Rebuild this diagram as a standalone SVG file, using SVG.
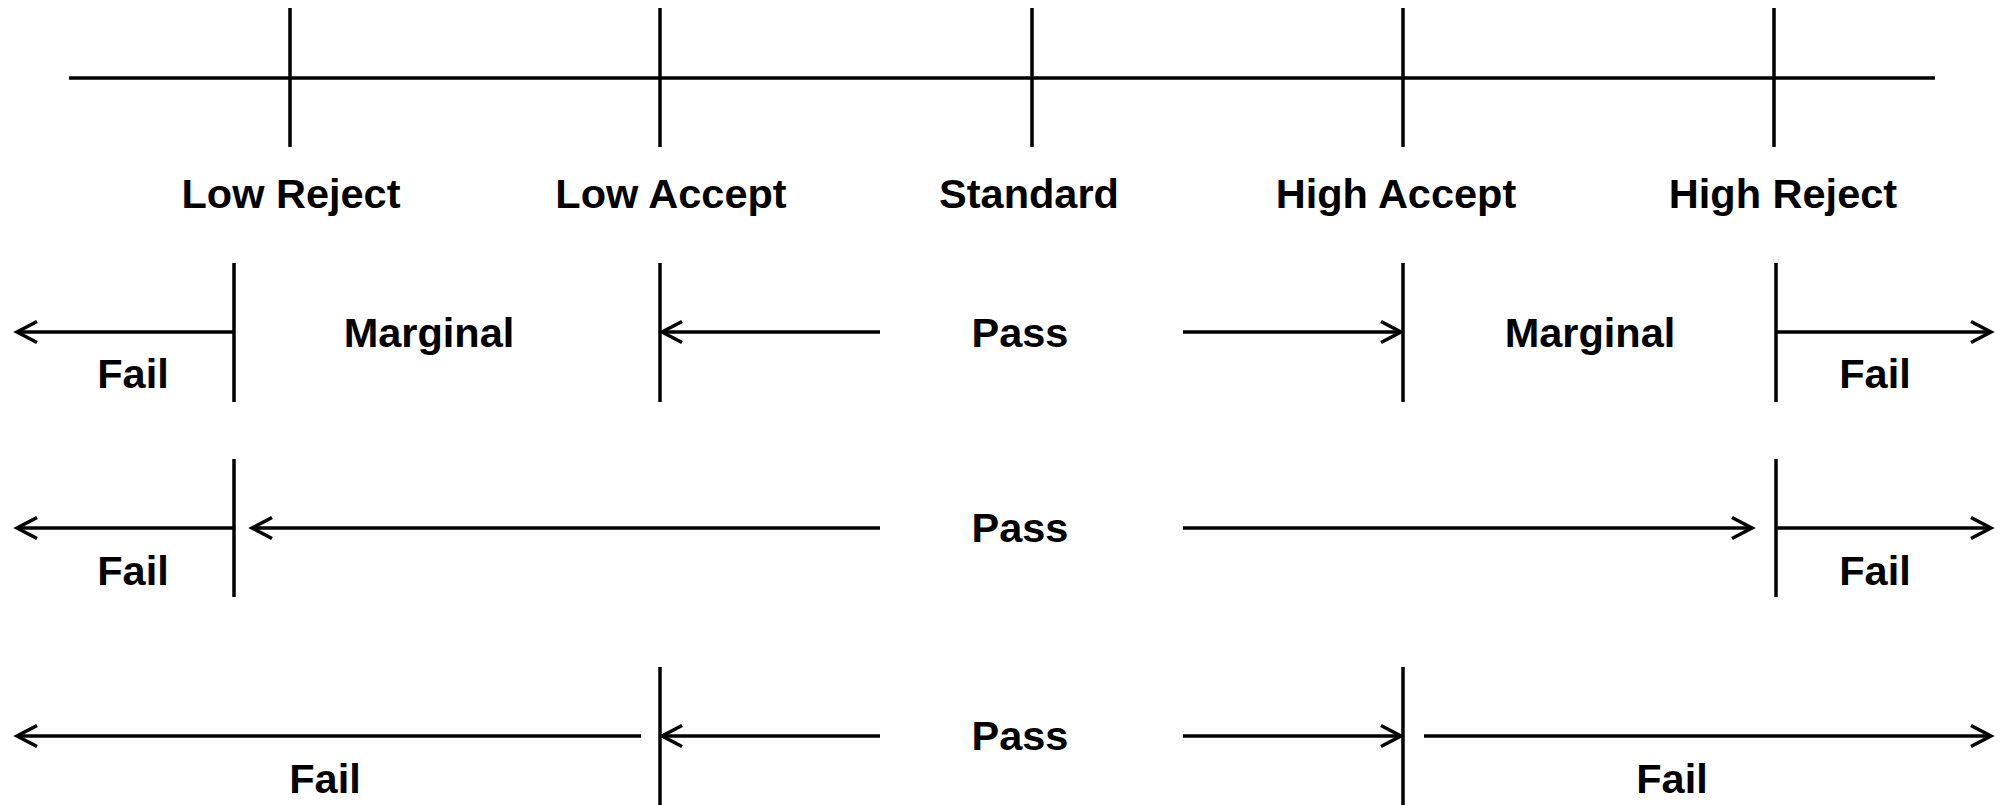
<svg xmlns="http://www.w3.org/2000/svg" width="2000" height="805" viewBox="0 0 2000 805">
<style>
.ln{stroke:#000;stroke-width:3.5;fill:none}
.ar{stroke:#000;stroke-width:3.5;fill:none;marker-end:url(#ah)}
.t{font-family:"Liberation Sans",Arial,sans-serif;font-weight:bold;font-size:41.5px;fill:#000;text-anchor:middle}
</style>
<defs>
<marker id="ah" markerUnits="userSpaceOnUse" markerWidth="30" markerHeight="30" viewBox="-24 -15 30 30" refX="0" refY="0" orient="auto">
<path d="M-20,-10.5 L0,0 L-20,10.5" stroke="#000" stroke-width="3.5" fill="none"/>
</marker>
</defs>
<rect width="2000" height="805" fill="#fff"/>
<g id="scale">
<line class="ln" x1="69" y1="78" x2="1935" y2="78"/>
<line class="ln" x1="290" y1="8" x2="290" y2="147"/>
<line class="ln" x1="660" y1="8" x2="660" y2="147"/>
<line class="ln" x1="1032" y1="8" x2="1032" y2="147"/>
<line class="ln" x1="1403" y1="8" x2="1403" y2="147"/>
<line class="ln" x1="1774" y1="8" x2="1774" y2="147"/>
</g>
<g id="labels">
<text class="t" x="291" y="208">Low Reject</text>
<text class="t" x="671" y="208">Low Accept</text>
<text class="t" x="1029" y="208">Standard</text>
<text class="t" x="1396" y="208">High Accept</text>
<text class="t" x="1783" y="208">High Reject</text>
</g>
<g id="row1">
<line class="ln" x1="234" y1="263" x2="234" y2="402"/>
<line class="ln" x1="660" y1="263" x2="660" y2="402"/>
<line class="ln" x1="1403" y1="263" x2="1403" y2="402"/>
<line class="ln" x1="1776" y1="263" x2="1776" y2="402"/>
<text class="t" x="133" y="388">Fail</text>
<text class="t" x="429" y="347">Marginal</text>
<text class="t" x="1020" y="347">Pass</text>
<text class="t" x="1590" y="347">Marginal</text>
<text class="t" x="1875" y="388">Fail</text>
</g>
<g id="row2">
<line class="ln" x1="234" y1="459" x2="234" y2="597"/>
<line class="ln" x1="1776" y1="459" x2="1776" y2="597"/>
<text class="t" x="133" y="585">Fail</text>
<text class="t" x="1020" y="542">Pass</text>
<text class="t" x="1875" y="585">Fail</text>
</g>
<g id="row3">
<line class="ln" x1="660" y1="667" x2="660" y2="805"/>
<line class="ln" x1="1403" y1="667" x2="1403" y2="805"/>
<text class="t" x="325" y="793">Fail</text>
<text class="t" x="1020" y="750">Pass</text>
<text class="t" x="1672" y="793">Fail</text>
</g>
<g id="connectors">
<line class="ar" x1="234" y1="332" x2="17" y2="332"/>
<line class="ar" x1="880" y1="332" x2="662" y2="332"/>
<line class="ar" x1="1183" y1="332" x2="1401" y2="332"/>
<line class="ar" x1="1776" y1="332" x2="1991" y2="332"/>
<line class="ar" x1="234" y1="528" x2="17" y2="528"/>
<line class="ar" x1="880" y1="528" x2="252" y2="528"/>
<line class="ar" x1="1183" y1="528" x2="1752" y2="528"/>
<line class="ar" x1="1776" y1="528" x2="1991" y2="528"/>
<line class="ar" x1="641" y1="736" x2="17" y2="736"/>
<line class="ar" x1="880" y1="736" x2="662" y2="736"/>
<line class="ar" x1="1183" y1="736" x2="1401" y2="736"/>
<line class="ar" x1="1424" y1="736" x2="1991" y2="736"/>
</g>
</svg>
